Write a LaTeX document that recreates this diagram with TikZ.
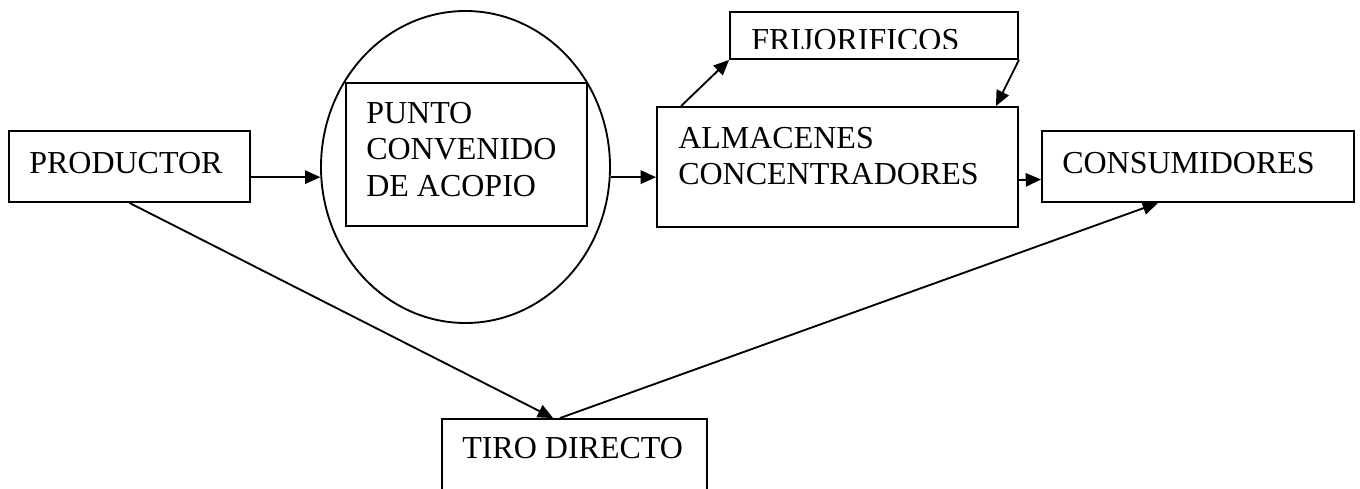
\documentclass[tikz,border=0pt]{standalone}
\usepackage{fontspec}
\setmainfont{Liberation Serif}
\usetikzlibrary{arrows.meta,shapes.geometric,fit}
\tikzset{
  box/.style={draw, line width=1.4pt, inner sep=0pt},
  boxtext/.style={anchor=north west, inner sep=0pt, align=left, font=\fontsize{24}{27.4}\selectfont},
  arr/.style={-{Triangle[length=11.5pt,width=10pt]}, line width=1.4pt}
}
\begin{document}
\begin{tikzpicture}[x=0.75pt,y=-0.75pt]
    \useasboundingbox (0,0) rectangle (1360,489);
    % Draw the boxes and the circle
    \node[box, fit={(9,131) (250,202)}] (productor) {};
    \node[box, ellipse, minimum width=216.75pt, minimum height=234pt] (acopio) at (465.5,167) {};
    \node[box, fit={(346,83) (587,226)}] (punto) {};
    \node[box, fit={(657,107) (1018,227)}] (almacenes) {};
    \node[box, fit={(730,12) (1018,59)}] (frijorificos) {};
    \node[box, fit={(1042,131) (1354,202)}] (consumidores) {};
    \node[box, fit={(442,419) (707,520)}] (tiro) {};

    % Write the texts
    \node[boxtext] (productor-txt) at (29,152) {PRODUCTOR};
    \node[boxtext] (punto-txt) at (366,102) {PUNTO\\CONVENIDO\\DE ACOPIO};
    \node[boxtext] (almacenes-txt) at (678,127) {ALMACENES\\CONCENTRADORES};
    \node[boxtext] (consumidores-txt) at (1062,152) {CONSUMIDORES};
    \node[boxtext] (tiro-txt) at (462,437) {TIRO DIRECTO};
    \begin{scope}
        \clip (730,12) rectangle (1018,48);
        \node[boxtext] (frijorificos-txt) at (751,29) {FRIJORIFICOS};
    \end{scope}

    % Draw the arrows
    \draw[arr] (productor.east |- acopio.184.8) -- (acopio.184.8);
    \draw[arr] (acopio.-4.2) -- (almacenes.west |- acopio.-4.2);
    \draw[arr] ([yshift=-9.75pt]almacenes.east) -- ([yshift=-9.75pt]consumidores.west);
    \draw[arr] ([xshift=18.75pt]almacenes.north west) -- (frijorificos.south west);
    \draw[arr] (frijorificos.south east) -- ([xshift=-17.25pt]almacenes.north east);
    \draw[arr] (productor.south) -- ([xshift=-16pt]tiro.north);
    \draw[arr] ([xshift=-10.9pt]tiro.north) -- ([xshift=-30pt]consumidores.south);
\end{tikzpicture}
\end{document}
